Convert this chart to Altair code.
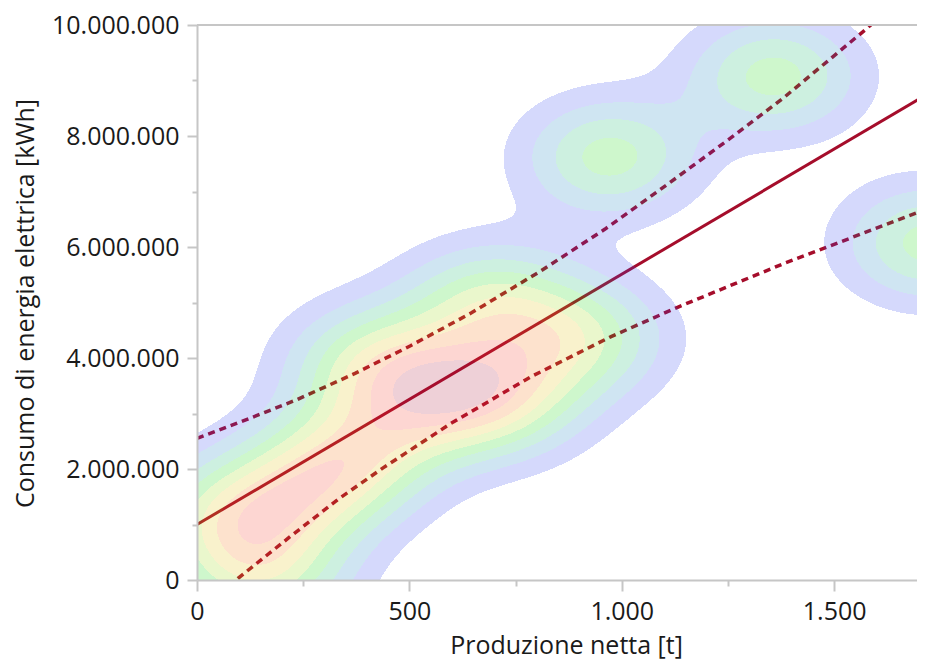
import numpy as np
import pandas as pd
import altair as alt

# ---------------- data ----------------
# estimated observations behind the density surface (production t, consumption kWh)
obs_prod = [73.0, 256.7, 153.0, 381.4, 412.1, 572.2, 718.2, 685.2, 901.8, 970.1, 1358.6, 1723.6]
obs_cons = [1.117e6, 1.622e6, 0.072e6, 2.324e6, 3.928e6, 3.333e6, 3.279e6, 5.009e6, 4.360e6,
            7.622e6, 9.081e6, 6.072e6]
bw_prod = 143.6      # kernel bandwidth (t)
bw_cons = 0.757e6    # kernel bandwidth (kWh)

# regression line
fit_prod = [0, 1714]
fit_cons = [1.0e6, 8.73e6]

# confidence band (upper / lower)
upper_prod = [0, 124.8, 235.5, 372.0, 501.5, 645.2, 807.6, 960.7, 1106.7, 1255.0, 1379.8, 1572.9, 1631.7]
upper_cons = [2.55e6, 2.914e6, 3.251e6, 3.722e6, 4.216e6, 4.810e6, 5.560e6, 6.323e6, 7.125e6,
              7.956e6, 8.681e6, 9.912e6, 10.303e6]
lower_prod = [30.6, 96.5, 219.0, 332.0, 438.0, 598.1, 786.4, 974.8, 1132.6, 1384.5, 1714.2]
lower_cons = [-0.385e6, 0.030e6, 0.780e6, 1.452e6, 2.020e6, 2.823e6, 3.663e6, 4.386e6, 4.918e6,
              5.711e6, 6.675e6]

x_ticks = [0, 250, 500, 750, 1000, 1250, 1500]
y_ticks = [0, 1e6, 2e6, 3e6, 4e6, 5e6, 6e6, 7e6, 8e6, 9e6, 1e7]

level_ids = [1, 2, 3, 4, 5, 6, 7, 8, 9]
level_colors = ["#2d41f0", "#0f7dbe", "#05b464", "#0ad700", "#96d700",
                "#e1be00", "#f56e05", "#f5321e", "#aa1437"]

# ---------------- settings ----------------
X_MAX = 1695
Y_MAX = 10_000_000
W, H = 720, 555
FONT = "Open Sans"
GREY = "#c6c6c6"
INK = "#1a1a1a"
LINE = "#a50d2b"

# ---------------- density surface (Gaussian KDE of the observations) ----------------
xe = np.linspace(0, X_MAX, W + 1)
ye = np.linspace(0, Y_MAX, H + 1)
xc = (xe[:-1] + xe[1:]) / 2
yc = (ye[:-1] + ye[1:]) / 2
GX, GY = np.meshgrid(xc, yc)
dens = np.zeros_like(GX)
for px, py in zip(obs_prod, obs_cons):
    dens += np.exp(-((GX - px) ** 2 / (2 * bw_prod ** 2) + (GY - py) ** 2 / (2 * bw_cons ** 2)))
lvl = np.clip(np.floor(dens / dens.max() * 10), 0, 9).astype(int)

recs = []
for j in range(H):
    r = lvl[j]
    ch = np.flatnonzero(np.diff(r)) + 1
    starts = np.r_[0, ch]
    ends = np.r_[ch, W]
    for s, e in zip(starts, ends):
        if r[s] > 0:
            recs.append((round(float(xe[s]), 5), round(float(xe[e]), 5),
                         round(float(ye[j]), 2), round(float(ye[j + 1]), 2), int(r[s])))
dens_df = pd.DataFrame(recs, columns=["x0", "x1", "y0", "y1", "lvl"])

# ---------------- scales / axes ----------------
xs = alt.Scale(domain=[0, X_MAX], nice=False, zero=False)
ys = alt.Scale(domain=[0, Y_MAX], nice=False, zero=False)

common_axis = dict(
    format=",d", labelFont=FONT, labelFontSize=25, labelColor=INK,
    domainColor=GREY, domainWidth=2, tickColor=GREY, tickWidth=2,
    grid=False, labelFlush=False, labelOverlap=False,
    titleFont=FONT, titleFontSize=25, titleFontWeight="normal", titleColor=INK,
    titleAlign="center", titleBaseline="alphabetic", zindex=1,
)
x_axis = alt.Axis(
    values=x_ticks,
    labelExpr="datum.value % 500 === 0 ? datum.label : ''",
    tickSize={"condition": {"test": "datum.value % 500 === 0", "value": 11}, "value": 6},
    labelPadding=8,
    title="Produzione netta [t]", titleX=369, titleY=73.5,
    **common_axis,
)
y_axis = alt.Axis(
    values=y_ticks,
    labelExpr="datum.value % 2000000 === 0 ? datum.label : ''",
    tickSize={"condition": {"test": "datum.value % 2000000 === 0", "value": 10}, "value": 5},
    labelPadding=8,
    title="Consumo di energia elettrica [kWh]", titleX=-164, titleY=278, titleAngle=270,
    **common_axis,
)

def xy(xf, yf):
    return dict(x=alt.X(xf, type="quantitative", scale=xs, axis=x_axis),
                y=alt.Y(yf, type="quantitative", scale=ys, axis=y_axis))

fit = alt.Chart(pd.DataFrame({"x": fit_prod, "y": fit_cons})).mark_line(
    color=LINE, strokeWidth=3, clip=True).encode(**xy("x", "y"))
upper = alt.Chart(pd.DataFrame({"x": upper_prod, "y": upper_cons})).mark_line(
    color=LINE, strokeWidth=3.5, strokeDash=[7, 5], clip=True).encode(**xy("x", "y"))
lower = alt.Chart(pd.DataFrame({"x": lower_prod, "y": lower_cons})).mark_line(
    color=LINE, strokeWidth=3.5, strokeDash=[7, 5], clip=True).encode(**xy("x", "y"))

density = alt.Chart(dens_df).mark_rect(opacity=0.2, clip=True).encode(
    **xy("x0", "y0"),
    x2="x1:Q", y2="y1:Q",
    color=alt.Color("lvl:O", scale=alt.Scale(domain=level_ids, range=level_colors), legend=None),
)

top = alt.Chart(pd.DataFrame({"y": [Y_MAX]})).mark_rule(color=GREY, strokeWidth=2).encode(
    y=alt.Y("y", type="quantitative", scale=ys, axis=y_axis))

chart = alt.layer(fit, upper, lower, density, top).properties(
    width=W, height=H,
    padding={"left": 189, "top": 17, "right": 0, "bottom": 90},
    autosize=alt.AutoSizeParams(type="none"),
).configure(
    font=FONT,
    locale={"number": {"decimal": ",", "thousands": ".", "grouping": [3], "currency": ["", " €"]}},
).configure_view(stroke=None)

chart.save("out.html", embed_options={"renderer": "svg", "actions": False})
